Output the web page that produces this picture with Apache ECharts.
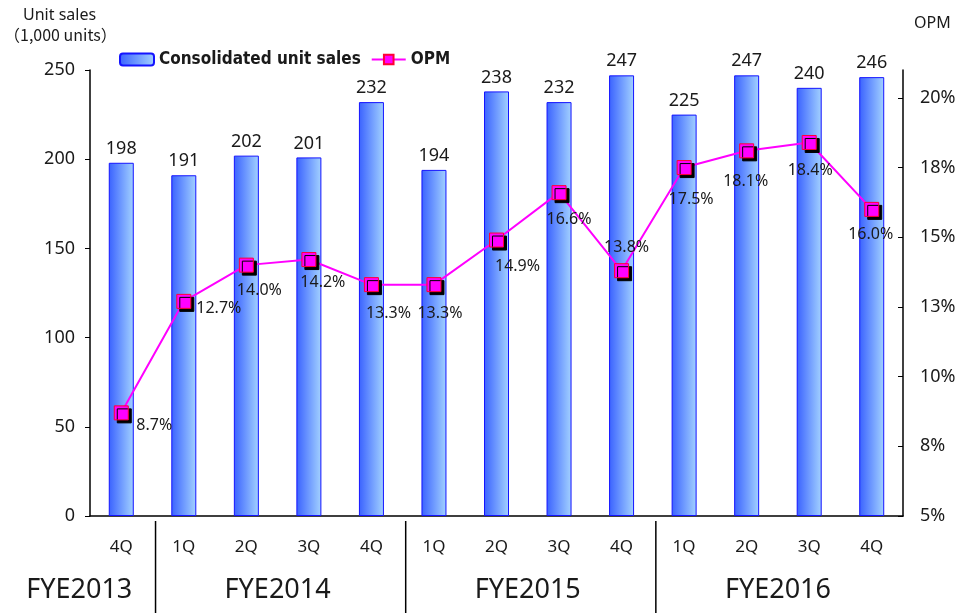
<!DOCTYPE html>
<html>
<head>
<meta charset="utf-8">
<script src="https://cdn.jsdelivr.net/npm/echarts@6/dist/echarts.min.js"></script>
<style>
  html, body { margin: 0; padding: 0; background: #fff; }
  #main { width: 965px; height: 613px; }
</style>
</head>
<body>
<div id="main"></div>
<script>
// data
const quarters = ['4Q', '1Q', '2Q', '3Q', '4Q', '1Q', '2Q', '3Q', '4Q', '1Q', '2Q', '3Q', '4Q']
const unitSales = [198, 191, 202, 201, 232, 194, 238, 232, 247, 225, 247, 240, 246]
const opm = [8.7, 12.7, 14.0, 14.2, 13.3, 13.3, 14.9, 16.6, 13.8, 17.5, 18.1, 18.4, 16.0]
const fiscalYears = ['FYE2013', 'FYE2014', 'FYE2015', 'FYE2016']
const yearFirstQuarter = [0, 1, 5, 9]
const yearLastQuarter = [0, 4, 8, 12]
const salesTicks = [0, 50, 100, 150, 200, 250]
const opmTicks = [5, 7.5, 10, 12.5, 15, 17.5, 20]

const FONT = '"Noto Sans", "Noto Sans CJK JP", sans-serif'
const CJK_FONT = '"Noto Sans CJK JP", sans-serif'
const TEXT = '#1a1a1a'

// where each OPM label sits relative to its marker (the source nudged them by hand)
const opmLabelShift = [
  [33, 13], [35, 7], [13, 25], [14, 23], [17, 29], [6, 29], [21, 26],
  [10, 27], [5, -23], [7, 32], [-1, 31], [1, 28], [-1, 25],
]

const myChart = echarts.init(document.getElementById('main'))

const barColor = new echarts.graphic.LinearGradient(0, 0, 1, 0, [
  { offset: 0, color: '#3a62ff' },
  { offset: 1, color: '#a3d2ff' },
])

const option = {
  animation: false,
  backgroundColor: '#fff',
  textStyle: { fontFamily: FONT, color: TEXT },
  grid: { left: 90, right: 62, top: 70, bottom: 97 },
  legend: {
    left: 119,
    top: 51,
    padding: 0,
    itemGap: 10,
    itemWidth: 34,
    itemHeight: 12,
    textStyle: {
      fontFamily: '"Liberation Sans Narrow", "DejaVu Sans Condensed", sans-serif',
      fontWeight: 'bold',
      fontSize: 17,
      color: TEXT,
    },
    data: [
      { name: 'Consolidated unit sales' },
      { name: 'OPM' },
    ],
  },
  xAxis: {
    type: 'category',
    data: quarters,
    axisLine: { lineStyle: { color: '#000', width: 1.5 } },
    axisTick: { inside: true, length: 6, lineStyle: { color: '#000' } },
    axisLabel: { margin: 23, fontSize: 17, color: TEXT, fontFamily: FONT },
  },
  yAxis: [
    {
      type: 'value',
      min: 0,
      max: 250,
      interval: 50,
      splitLine: { show: false },
      axisLine: { show: true, lineStyle: { color: '#000', width: 1.5 } },
      axisTick: { show: true, length: 5, lineStyle: { color: '#000' }, customValues: salesTicks },
      axisLabel: { margin: 15, fontSize: 18, color: TEXT, fontFamily: FONT, customValues: salesTicks },
    },
    {
      type: 'value',
      position: 'right',
      min: 5,
      max: 21,
      splitLine: { show: false },
      axisLine: { show: true, lineStyle: { color: '#000', width: 1.5 } },
      axisTick: { show: true, inside: true, length: 5, lineStyle: { color: '#000' }, customValues: opmTicks },
      axisLabel: {
        margin: 17,
        fontSize: 18,
        color: TEXT,
        fontFamily: FONT,
        customValues: opmTicks,
        formatter: (v) => Math.round(v) + '%',
      },
    },
  ],
  series: [
    {
      name: 'Consolidated unit sales',
      type: 'bar',
      barWidth: 25,
      yAxisIndex: 0,
      data: unitSales,
      itemStyle: { color: barColor, borderColor: '#1414ff', borderWidth: 1 },
      label: {
        show: true,
        position: 'top',
        distance: 5,
        fontSize: 18,
        color: TEXT,
        fontFamily: FONT,
      },
    },
    {
      name: 'OPM',
      type: 'line',
      yAxisIndex: 1,
      symbol: 'rect',
      symbolSize: 14,
      z: 5,
      lineStyle: { color: '#ff00ff', width: 2 },
      itemStyle: {
        color: '#ff00ff',
        borderColor: '#ff0033',
        borderWidth: 1,
        shadowColor: '#000',
        shadowOffsetX: 3,
        shadowOffsetY: 3,
        shadowBlur: 0,
      },
      data: opm.map((v, i) => ({
        value: v,
        label: { offset: opmLabelShift[i] },
      })),
      label: {
        show: true,
        position: 'inside',
        fontSize: 16,
        color: TEXT,
        fontFamily: FONT,
        formatter: (p) => p.value.toFixed(1) + '%',
      },
    },
  ],
}

myChart.setOption(option)

// axis captions, fiscal year captions and separators under the quarter labels
const px = (i) => myChart.convertToPixel({ xAxisIndex: 0 }, i)
const graphics = [
  { type: 'text', x: 23, y: 7, style: { text: 'Unit sales', font: '16px ' + FONT, fill: TEXT } },
  { type: 'text', x: 4, y: 27, style: { text: '（1,000 units）', font: '16px ' + CJK_FONT, fill: TEXT } },
  { type: 'text', x: 914, y: 15, style: { text: 'OPM', font: '16px ' + FONT, fill: TEXT } },
]
fiscalYears.forEach((name, k) => {
  const first = yearFirstQuarter[k]
  const last = yearLastQuarter[k]
  let cx = (px(first) + px(last)) / 2
  if (k === 0) cx = (px(0) + px(1)) / 4 + 3
  graphics.push({
    type: 'text',
    x: cx,
    y: 590,
    style: {
      text: name,
      font: '27px ' + FONT,
      fill: TEXT,
      align: 'center',
      verticalAlign: 'middle',
    },
  })
  if (k > 0) {
    const bx = (px(first - 1) + px(first)) / 2 + 3
    graphics.push({
      type: 'line',
      shape: { x1: bx, y1: 521, x2: bx, y2: 613 },
      style: { stroke: '#000', lineWidth: 1.5 },
    })
  }
})
myChart.setOption({ graphic: graphics })
</script>
</body>
</html>
